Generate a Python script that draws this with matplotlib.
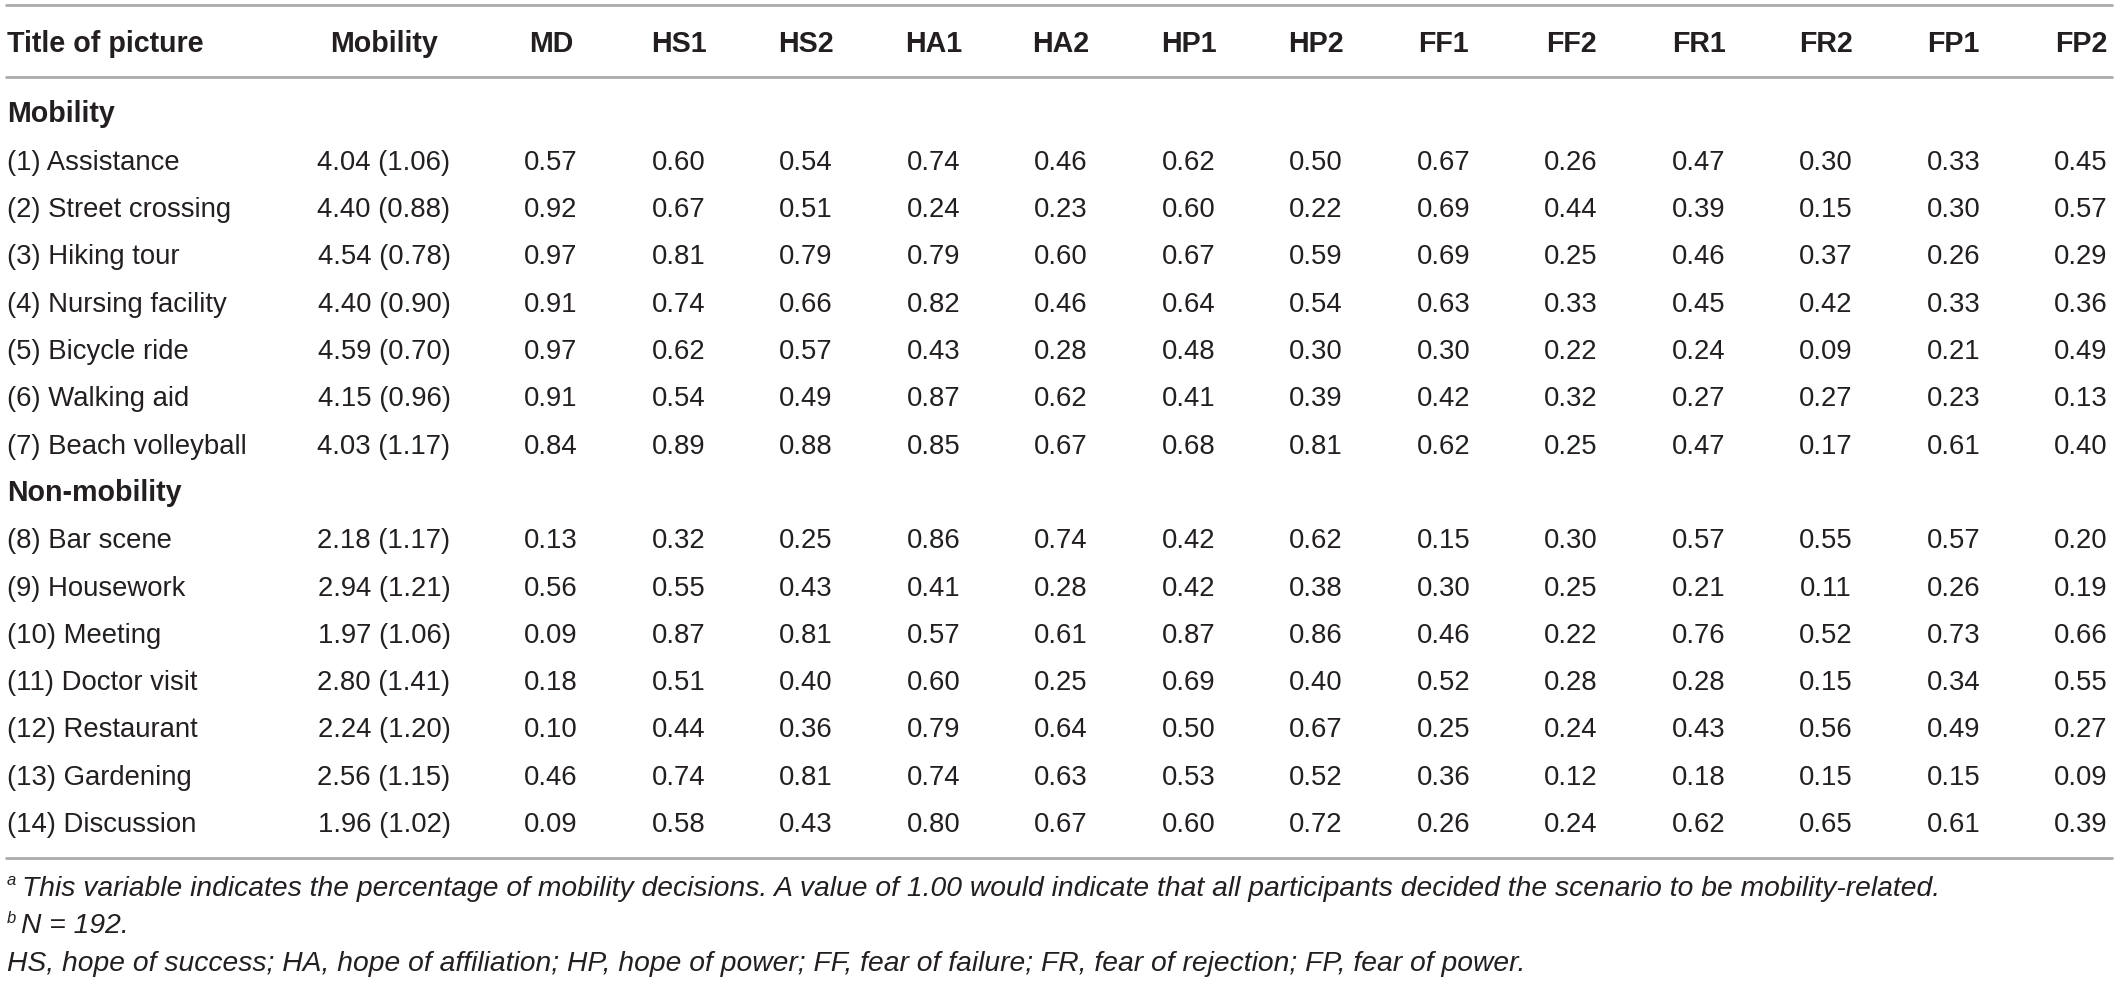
import matplotlib
matplotlib.use("Agg")
import matplotlib.pyplot as plt

plt.rcParams['font.family'] = ['Liberation Sans', 'DejaVu Sans']

# table content
col_names = ["MD", "HS1", "HS2", "HA1", "HA2", "HP1", "HP2",
             "FF1", "FF2", "FR1", "FR2", "FP1", "FP2"]

mobility_titles = ["(1) Assistance", "(2) Street crossing", "(3) Hiking tour",
                   "(4) Nursing facility", "(5) Bicycle ride", "(6) Walking aid",
                   "(7) Beach volleyball"]
nonmobility_titles = ["(8) Bar scene", "(9) Housework", "(10) Meeting",
                      "(11) Doctor visit", "(12) Restaurant", "(13) Gardening",
                      "(14) Discussion"]

mob_mean = [4.04, 4.40, 4.54, 4.40, 4.59, 4.15, 4.03, 2.18, 2.94, 1.97, 2.80, 2.24, 2.56, 1.96]
mob_sd = [1.06, 0.88, 0.78, 0.90, 0.70, 0.96, 1.17, 1.17, 1.21, 1.06, 1.41, 1.20, 1.15, 1.02]

md = [0.57, 0.92, 0.97, 0.91, 0.97, 0.91, 0.84, 0.13, 0.56, 0.09, 0.18, 0.10, 0.46, 0.09]
hs1 = [0.60, 0.67, 0.81, 0.74, 0.62, 0.54, 0.89, 0.32, 0.55, 0.87, 0.51, 0.44, 0.74, 0.58]
hs2 = [0.54, 0.51, 0.79, 0.66, 0.57, 0.49, 0.88, 0.25, 0.43, 0.81, 0.40, 0.36, 0.81, 0.43]
ha1 = [0.74, 0.24, 0.79, 0.82, 0.43, 0.87, 0.85, 0.86, 0.41, 0.57, 0.60, 0.79, 0.74, 0.80]
ha2 = [0.46, 0.23, 0.60, 0.46, 0.28, 0.62, 0.67, 0.74, 0.28, 0.61, 0.25, 0.64, 0.63, 0.67]
hp1 = [0.62, 0.60, 0.67, 0.64, 0.48, 0.41, 0.68, 0.42, 0.42, 0.87, 0.69, 0.50, 0.53, 0.60]
hp2 = [0.50, 0.22, 0.59, 0.54, 0.30, 0.39, 0.81, 0.62, 0.38, 0.86, 0.40, 0.67, 0.52, 0.72]
ff1 = [0.67, 0.69, 0.69, 0.63, 0.30, 0.42, 0.62, 0.15, 0.30, 0.46, 0.52, 0.25, 0.36, 0.26]
ff2 = [0.26, 0.44, 0.25, 0.33, 0.22, 0.32, 0.25, 0.30, 0.25, 0.22, 0.28, 0.24, 0.12, 0.24]
fr1 = [0.47, 0.39, 0.46, 0.45, 0.24, 0.27, 0.47, 0.57, 0.21, 0.76, 0.28, 0.43, 0.18, 0.62]
fr2 = [0.30, 0.15, 0.37, 0.42, 0.09, 0.27, 0.17, 0.55, 0.11, 0.52, 0.15, 0.56, 0.15, 0.65]
fp1 = [0.33, 0.30, 0.26, 0.33, 0.21, 0.23, 0.61, 0.57, 0.26, 0.73, 0.34, 0.49, 0.15, 0.61]
fp2 = [0.45, 0.57, 0.29, 0.36, 0.49, 0.13, 0.40, 0.20, 0.19, 0.66, 0.55, 0.27, 0.09, 0.39]

value_cols = [md, hs1, hs2, ha1, ha2, hp1, hp2, ff1, ff2, fr1, fr2, fp1, fp2]

note_a = "This variable indicates the percentage of mobility decisions. A value of 1.00 would indicate that all participants decided the scenario to be mobility-related."
note_b = "N = 192."
note_abbr = "HS, hope of success; HA, hope of affiliation; HP, hope of power; FF, fear of failure; FR, fear of rejection; FP, fear of power."

# layout (pixel coords)
W, H = 2118, 983
TXT = '#231f20'
RULE = '#ababab'
body_fs = 19.8
head_fs = 20.6

fig = plt.figure(figsize=(W / 100, H / 100), dpi=100)
ax = fig.add_axes([0, 0, 1, 1])
ax.set_xlim(0, W)
ax.set_ylim(H, 0)
ax.axis('off')

for y in (5, 77, 858):
    ax.plot([5, 2113], [y, y], color=RULE, lw=2.0, solid_capstyle='butt')

x_title = 7
x_mob = 384
x_cols = [551 + 127.5 * i for i in range(len(col_names))]

# header
head_base = 51.5
ax.text(x_title, head_base, "Title of picture", fontsize=head_fs, fontweight='bold',
        color=TXT, ha='left', va='baseline')
ax.text(x_mob, head_base, "Mobility", fontsize=head_fs, fontweight='bold',
        color=TXT, ha='center', va='baseline')
for x, name in zip(x_cols, col_names):
    ax.text(x, head_base, name, fontsize=head_fs, fontweight='bold',
            color=TXT, ha='center', va='baseline')

# body
first_base = 122.5
pitch = 47.3
rows = [("Mobility", None)] + [(t, i) for i, t in enumerate(mobility_titles)] + \
       [("Non-mobility", None)] + [(t, i + len(mobility_titles)) for i, t in enumerate(nonmobility_titles)]

for k, (label, idx) in enumerate(rows):
    yb = first_base + k * pitch
    if idx is None:
        ax.text(x_title, yb, label, fontsize=head_fs, fontweight='bold',
                color=TXT, ha='left', va='baseline')
        continue
    ax.text(x_title, yb, label, fontsize=body_fs, color=TXT, ha='left', va='baseline')
    ax.text(x_mob, yb, f"{mob_mean[idx]:.2f} ({mob_sd[idx]:.2f})", fontsize=body_fs,
            color=TXT, ha='center', va='baseline')
    for x, vals in zip(x_cols, value_cols):
        ax.text(x, yb, f"{vals[idx]:.2f}", fontsize=body_fs, color=TXT,
                ha='center', va='baseline')

# footnotes
foot_fs = 20.3
ax.text(7, 885, "a", fontsize=12, style='italic', color=TXT, ha='left', va='baseline')
ax.text(22, 896, note_a, fontsize=foot_fs, style='italic', color=TXT, ha='left', va='baseline')
ax.text(7, 923, "b", fontsize=12, style='italic', color=TXT, ha='left', va='baseline')
ax.text(21, 933, note_b, fontsize=foot_fs, style='italic', color=TXT, ha='left', va='baseline')
ax.text(7, 971, note_abbr, fontsize=foot_fs, style='italic', color=TXT, ha='left', va='baseline')

fig.savefig('out.png', dpi=100)
